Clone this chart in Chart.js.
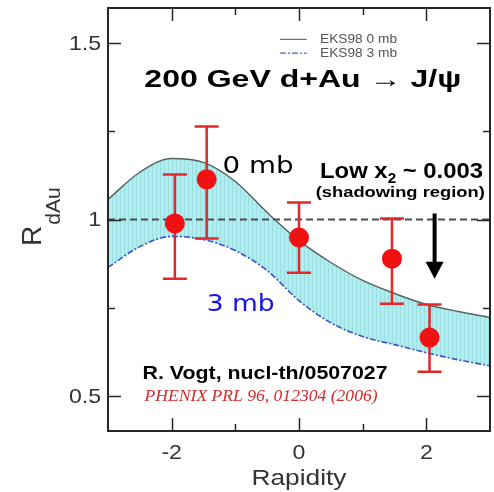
<!DOCTYPE html>
<html>
<head>
<meta charset="utf-8">
<script src="https://cdn.jsdelivr.net/npm/chart.js@4.4.1/dist/chart.umd.min.js"></script>
<style>
  html, body { margin: 0; padding: 0; background: #fff; }
  #c { display: block; }
</style>
</head>
<body>
<canvas id="c" width="494" height="492"></canvas>
<script>
// EKS98 shadowing curves (R. Vogt)
const rapidity = [-3, -2.5, -2, -1.5, -1, -0.5, 0, 0.5, 1, 1.5, 2, 2.5, 3];
const eks0mb = [1.057, 1.134, 1.173, 1.162, 1.108, 1.02, 0.94, 0.878, 0.827, 0.79, 0.759, 0.739, 0.722];
const eks3mb = [0.864, 0.923, 0.952, 0.943, 0.912, 0.855, 0.77, 0.707, 0.668, 0.645, 0.622, 0.602, 0.585];

// PHENIX d+Au J/psi points
const phenixY  = [-1.95, -1.45, 0.0, 1.46, 2.05];
const phenixR  = [0.989, 1.114, 0.949, 0.889, 0.665];
const phenixHi = [1.128, 1.264, 1.048, 1.003, 0.759];
const phenixLo = [0.832, 0.946, 0.849, 0.761, 0.568];

const unityX = [-3, 3];
const unityY = [1, 1];

const xTicks = [-2, 0, 2];
const xTickLabels = ['-2', '0', '2'];
const xMinor = [-1, 1];
const yTicks = [0.5, 1, 1.5];
const yTickLabels = ['0.5', '1', '1.5'];
const yMinor = [0.75, 1.25];

const SANS = '"Liberation Sans", Arial, Helvetica, sans-serif';

// draws text squeezed/stretched horizontally to a given width (or factor)
function putText(ctx, str, x, y, opts) {
  const w = ctx.measureText(str).width;
  const sx = opts.width ? opts.width / w : (opts.sx || 1);
  ctx.save();
  ctx.translate(x, y);
  ctx.scale(sx, 1);
  ctx.textAlign = opts.align || 'left';
  ctx.fillText(str, 0, 0);
  ctx.restore();
  return w * sx;
}

function bandPattern(ctx) {
  const c = document.createElement('canvas');
  c.width = 4; c.height = 4;
  const g = c.getContext('2d');
  g.fillStyle = '#afeeee';
  g.fillRect(0, 0, 4, 4);
  g.fillStyle = '#9ddde2';
  g.fillRect(0, 0, 1, 4);
  return ctx.createPattern(c, 'repeat');
}

const decor = {
  id: 'decor',
  beforeDatasetDraw(chart, args) {
    if (args.index !== 0) return;
    const { ctx, scales: { x, y } } = chart;
    ctx.save();
    ctx.strokeStyle = '#e3282b';
    ctx.lineWidth = 2.5;
    phenixY.forEach((v, i) => {
      const px = x.getPixelForValue(v);
      const hi = y.getPixelForValue(phenixHi[i]);
      const lo = y.getPixelForValue(phenixLo[i]);
      ctx.beginPath();
      ctx.moveTo(px, hi); ctx.lineTo(px, lo);
      ctx.moveTo(px - 12, hi); ctx.lineTo(px + 12, hi);
      ctx.moveTo(px - 12, lo); ctx.lineTo(px + 12, lo);
      ctx.stroke();
    });
    ctx.restore();
  },
  afterDraw(chart) {
    const { ctx, chartArea: a, scales: { x, y } } = chart;
    ctx.save();

    // frame + inward ticks on all four sides
    ctx.strokeStyle = '#262626';
    ctx.lineWidth = 2;
    ctx.strokeRect(a.left, a.top, a.right - a.left, a.bottom - a.top);
    ctx.lineWidth = 1.5;
    const xt = (vals, len) => vals.forEach(v => {
      const p = Math.round(x.getPixelForValue(v)) + 0.5;
      ctx.beginPath();
      ctx.moveTo(p, a.bottom); ctx.lineTo(p, a.bottom - len);
      ctx.moveTo(p, a.top); ctx.lineTo(p, a.top + len);
      ctx.stroke();
    });
    const yt = (vals, len) => vals.forEach(v => {
      const p = Math.round(y.getPixelForValue(v)) + 0.5;
      ctx.beginPath();
      ctx.moveTo(a.left, p); ctx.lineTo(a.left + len, p);
      ctx.moveTo(a.right, p); ctx.lineTo(a.right - len, p);
      ctx.stroke();
    });
    xt(xTicks, 13); xt(xMinor, 7);
    yt(yTicks, 13); yt(yMinor, 7);

    // tick labels
    ctx.fillStyle = '#333';
    ctx.font = '21px ' + SANS;
    ctx.textBaseline = 'alphabetic';
    xTicks.forEach((v, i) => putText(ctx, xTickLabels[i], x.getPixelForValue(v), a.bottom + 28, { sx: 1.1, align: 'center' }));
    ctx.textBaseline = 'middle';
    yTicks.forEach((v, i) => putText(ctx, yTickLabels[i], a.left - 7, y.getPixelForValue(v) + 1, { sx: 1.1, align: 'right' }));
    ctx.textBaseline = 'alphabetic';

    // axis titles
    ctx.font = '22px ' + SANS;
    putText(ctx, 'Rapidity', (a.left + a.right) / 2, 485, { width: 95, align: 'center' });
    ctx.save();
    ctx.translate(41, 246);
    ctx.rotate(-Math.PI / 2);
    ctx.font = '28px ' + SANS;
    const wR = putText(ctx, 'R', 0, 0, { sx: 1.0 });
    ctx.font = '20px ' + SANS;
    putText(ctx, 'dAu', wR + 1, 19, { sx: 1.05 });
    ctx.restore();

    // legend (top right, inside frame)
    const lx0 = x.getPixelForValue(-0.3), lx1 = x.getPixelForValue(0.12);
    const ly1 = y.getPixelForValue(1.511), ly2 = y.getPixelForValue(1.472);
    ctx.lineWidth = 1.2;
    ctx.strokeStyle = '#6a6a6a';
    ctx.beginPath(); ctx.moveTo(lx0, ly1); ctx.lineTo(lx1, ly1); ctx.stroke();
    ctx.strokeStyle = '#4a5ccc';
    ctx.setLineDash([6, 2, 2, 2]);
    ctx.beginPath(); ctx.moveTo(lx0, ly2); ctx.lineTo(lx1, ly2); ctx.stroke();
    ctx.setLineDash([]);
    ctx.fillStyle = '#555';
    ctx.font = '13px ' + SANS;
    ctx.textBaseline = 'middle';
    putText(ctx, 'EKS98 0 mb', x.getPixelForValue(0.33), ly1, { width: 77 });
    putText(ctx, 'EKS98 3 mb', x.getPixelForValue(0.33), ly2, { width: 77 });
    ctx.textBaseline = 'alphabetic';

    // title
    ctx.fillStyle = '#000';
    ctx.font = 'bold 24px ' + SANS;
    putText(ctx, '200 GeV d+Au \u2192 J/\u03c8', x.getPixelForValue(0.06), y.getPixelForValue(1.375), { width: 317, align: 'center' });

    // curve labels
    ctx.font = '23px "DejaVu Sans", sans-serif';
    putText(ctx, '0 mb', x.getPixelForValue(-1.2), y.getPixelForValue(1.131), { width: 71 });
    ctx.fillStyle = '#1414e6';
    putText(ctx, '3 mb', x.getPixelForValue(-1.45), y.getPixelForValue(0.741), { width: 68 });

    // low-x annotation
    ctx.fillStyle = '#000';
    const lowY = y.getPixelForValue(1.119);
    const parts = [['Low x', 'bold 22px ', 0], ['2', 'bold 14px ', 5], [' ~ 0.003', 'bold 22px ', 0]];
    let natural = 0;
    parts.forEach(p => { ctx.font = p[1] + SANS; natural += ctx.measureText(p[0]).width; });
    const sLow = 163 / natural;
    let cx = x.getPixelForValue(0.33);
    parts.forEach(p => {
      ctx.font = p[1] + SANS;
      cx += putText(ctx, p[0], cx, lowY + p[2], { sx: sLow });
    });
    ctx.font = 'bold 15px ' + SANS;
    putText(ctx, '(shadowing region)', x.getPixelForValue(1.59), y.getPixelForValue(1.0625), { width: 169, align: 'center' });

    // arrow pointing down
    const ax = x.getPixelForValue(2.13);
    const aTop = y.getPixelForValue(1.017), aBot = y.getPixelForValue(0.832);
    ctx.strokeStyle = '#000';
    ctx.lineWidth = 4;
    ctx.beginPath(); ctx.moveTo(ax, aTop); ctx.lineTo(ax, aBot - 14); ctx.stroke();
    ctx.beginPath();
    ctx.moveTo(ax - 9, aBot - 17); ctx.lineTo(ax + 9, aBot - 17); ctx.lineTo(ax, aBot);
    ctx.closePath(); ctx.fill();

    // references
    ctx.font = 'bold 18px ' + SANS;
    putText(ctx, 'R. Vogt, nucl-th/0507027', x.getPixelForValue(-2.457), y.getPixelForValue(0.548), { width: 245 });
    ctx.fillStyle = '#d42b2b';
    ctx.font = 'italic 16px "Liberation Serif", "Times New Roman", serif';
    putText(ctx, 'PHENIX PRL 96, 012304 (2006)', x.getPixelForValue(-2.425), y.getPixelForValue(0.486), { width: 233 });

    ctx.restore();
  }
};

const ctx = document.getElementById('c').getContext('2d');

new Chart(ctx, {
  type: 'scatter',
  data: {
    datasets: [
      {
        label: 'PHENIX',
        data: phenixY.map((v, i) => ({ x: v, y: phenixR[i] })),
        pointRadius: 10,
        pointHoverRadius: 10,
        backgroundColor: '#f01212',
        borderWidth: 0,
        order: 0,
      },
      {
        label: 'unity',
        data: unityX.map((v, i) => ({ x: v, y: unityY[i] })),
        showLine: true,
        pointRadius: 0,
        borderColor: '#4d4d4d',
        borderWidth: 1.8,
        borderDash: [7, 4],
        order: 1,
      },
      {
        label: 'EKS98 0 mb',
        data: rapidity.map((v, i) => ({ x: v, y: eks0mb[i] })),
        showLine: true,
        pointRadius: 0,
        borderColor: '#55625f',
        borderWidth: 1.4,
        cubicInterpolationMode: 'monotone',
        fill: '+1',
        backgroundColor: bandPattern(ctx),
        order: 2,
      },
      {
        label: 'EKS98 3 mb',
        data: rapidity.map((v, i) => ({ x: v, y: eks3mb[i] })),
        showLine: true,
        pointRadius: 0,
        borderColor: '#3d52c4',
        borderWidth: 1.6,
        borderDash: [6, 2, 2, 2],
        cubicInterpolationMode: 'monotone',
        fill: false,
        order: 3,
      },
    ]
  },
  options: {
    responsive: false,
    animation: false,
    events: [],
    layout: { autoPadding: false, padding: { top: 8, right: 4, left: 0, bottom: 0 } },
    plugins: {
      legend: { display: false },
      tooltip: { enabled: false },
      filler: { drawTime: 'beforeDatasetsDraw' },
    },
    scales: {
      x: {
        type: 'linear', min: -3, max: 3,
        grid: { display: false }, border: { display: false },
        ticks: { display: false },
        afterFit: (s) => { s.height = 61; },
      },
      y: {
        type: 'linear', min: 0.4, max: 1.6,
        grid: { display: false }, border: { display: false },
        ticks: { display: false },
        afterFit: (s) => { s.width = 108; },
      }
    }
  },
  plugins: [decor],
});
</script>
</body>
</html>
